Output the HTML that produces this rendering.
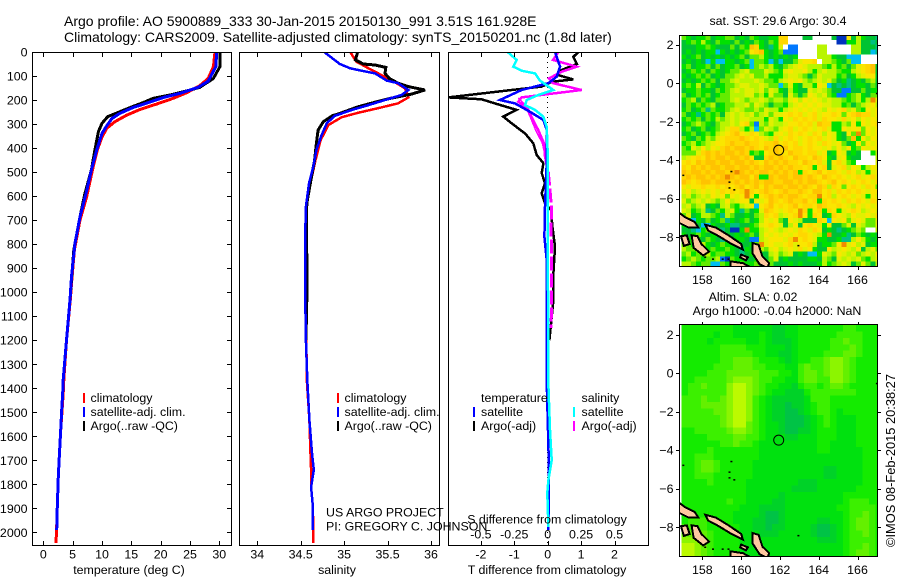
<!DOCTYPE html>
<html lang="en">
<head>
<meta charset="utf-8">
<title>Argo profile</title>
<style>
html,body{margin:0;padding:0;background:#fff;width:900px;height:580px;overflow:hidden}
svg{display:block}
text{font-family:"Liberation Sans",Arial,sans-serif;font-size:12.4px;fill:#000}
.big{font-size:14px}
</style>
</head>
<body>
<svg id="chart" xmlns="http://www.w3.org/2000/svg" width="900" height="580" viewBox="0 0 900 580">
<defs>
<clipPath id="clip-temp"><rect x="32" y="52" width="200" height="493"/></clipPath>
<clipPath id="clip-sal"><rect x="239" y="52" width="201" height="493"/></clipPath>
<clipPath id="clip-diff"><rect x="448" y="52" width="201" height="493"/></clipPath>
<clipPath id="clip-map1"><rect x="679" y="35" width="199" height="232"/></clipPath>
<clipPath id="clip-map2"><rect x="679" y="325" width="199" height="232"/></clipPath>
</defs>
<text class="big" x="64" y="26">Argo profile: AO 5900889_333 30-Jan-2015 20150130_991 3.51S 161.928E</text>
<text class="big" x="64" y="42">Climatology: CARS2009. Satellite-adjusted climatology: synTS_20150201.nc (1.8d later)</text>
<g id="map1-cells" clip-path="url(#clip-map1)"></g>
<g id="map2-cells" clip-path="url(#clip-map2)"></g>
<g id="map1-coast" clip-path="url(#clip-map1)"></g>
<g id="map2-coast" clip-path="url(#clip-map2)"></g>
<g id="lines-temp" clip-path="url(#clip-temp)"></g>
<g id="lines-sal" clip-path="url(#clip-sal)"></g>
<g id="lines-diff" clip-path="url(#clip-diff)"></g>
<g id="axes"></g>

<rect x="32.5" y="52.5" width="199" height="493" fill="none" stroke="#000"/>
<rect x="239.5" y="52.5" width="200" height="493" fill="none" stroke="#000"/>
<rect x="448.5" y="52.5" width="200" height="493" fill="none" stroke="#000"/>
<rect x="679.5" y="35.5" width="198" height="231" fill="none" stroke="#000"/>
<rect x="679.5" y="324.5" width="198" height="232" fill="none" stroke="#000"/>

<text x="129" y="574" text-anchor="middle">temperature (deg C)</text>
<text x="337" y="574" text-anchor="middle">salinity</text>
<text x="547" y="574" text-anchor="middle">T difference from climatology</text>
<text x="547" y="523.5" text-anchor="middle">S difference from climatology</text>

<g>
<rect x="83" y="393" width="2" height="10" fill="#f00"/>
<rect x="83" y="407" width="2" height="10" fill="#00f"/>
<rect x="83" y="421" width="2" height="10" fill="#000"/>
<text x="90.5" y="402">climatology</text>
<text x="90.5" y="416">satellite-adj. clim.</text>
<text x="90.5" y="430">Argo(..raw -QC)</text>
</g>
<g>
<rect x="337" y="393" width="2" height="10" fill="#f00"/>
<rect x="337" y="407" width="2" height="10" fill="#00f"/>
<rect x="337" y="421" width="2" height="10" fill="#000"/>
<text x="344.5" y="402">climatology</text>
<text x="344.5" y="416">satellite-adj. clim.</text>
<text x="344.5" y="430">Argo(..raw -QC)</text>
</g>
<g>
<text x="481" y="402">temperature</text>
<rect x="473" y="407" width="2" height="10" fill="#00f"/>
<rect x="473" y="421" width="2" height="10" fill="#000"/>
<text x="481" y="416">satellite</text>
<text x="481" y="430">Argo(-adj)</text>
<text x="581.5" y="402">salinity</text>
<rect x="573" y="407" width="2" height="10" fill="#0ff"/>
<rect x="573" y="421" width="2" height="10" fill="#f0f"/>
<text x="581.5" y="416">satellite</text>
<text x="581.5" y="430">Argo(-adj)</text>
</g>
<text x="326" y="516.5">US ARGO PROJECT</text>
<text x="326" y="530.5">PI: GREGORY C. JOHNSON</text>

<text x="778" y="25" text-anchor="middle">sat. SST: 29.6 Argo: 30.4</text>
<text x="753" y="301" text-anchor="middle">Altim. SLA: 0.02</text>
<text x="777" y="315" text-anchor="middle">Argo h1000: -0.04 h2000: NaN</text>
<text transform="translate(895,547) rotate(-90)" style="font-size:12.85px">©IMOS 08-Feb-2015 20:38:27</text>
</svg>

<script>
// ---------- profile data (depth in dbar, values in native units) ----------
const tempClimDepth = [0,61,110,140,170,193,217,239,263,290,318,354,408,477,602,700,824,949,1032,1200,1365,1420,1490,1574,1685,1768,1893,1976,2044];
const tempClimVal   = [29.27,29,28.1,26.7,24.4,22.1,19.3,16.5,14.2,12.2,10.8,10,9.2,8.5,7.4,6.25,5.3,4.85,4.6,3.95,3.5,3.4,3.2,2.96,2.73,2.56,2.39,2.28,2.17];
const tempArgoDepth = [0,61,110,147,158,179,193,211,228,248,269,297,332,408,491,588,686,824,949,1032];
const tempArgoVal   = [30.1,30.1,29,26.7,25,21.6,18.7,17,15.1,13.1,11,10,9.4,8.8,8.2,7.1,6.25,5.2,4.8,4.55];
const tempSatDepth  = [0,61,121,147,172,190,213,231,256,277,311,339,408,491,588,686,796,935,1032,1200,1365,1420,1490,1574,1685,1768,1893,1990];
const tempSatVal    = [29.55,29.4,28.1,26.4,23.3,20.4,17.6,15.3,13,11.7,10.7,10,9.1,8.2,7.3,6.25,5.4,4.8,4.55,3.95,3.4,3.3,3.13,2.96,2.73,2.56,2.39,2.28];

const salClimDepth = [0,40,68,96,123,151,189,214,234,253,272,304,366,450,533,630,783,1032,1365,1532,1650,1740,1811,1893,2044];
const salClimVal   = [35.07,35.14,35.28,35.43,35.57,35.7,35.74,35.62,35.39,35.16,34.97,34.82,34.73,34.67,34.62,34.57,34.55,34.56,34.57,34.6,34.61,34.62,34.62,34.64,34.645];
const salArgoDepth = [0,33,50,54,64,89,110,130,144,158,175,193,209,228,253,266,290,325,380,450,547,630,727,852,1032,1200];
const salArgoVal   = [35.156,35.13,35.22,35.355,35.48,35.47,35.52,35.62,35.74,35.93,35.78,35.53,35.355,35.16,34.97,34.86,34.76,34.7,34.68,34.66,34.61,34.57,34.565,34.57,34.57,34.56];
const salSatDepth  = [0,25,50,68,78,89,119,130,158,179,200,221,241,266,297,346,408,477,547,644,783,977,1200,1365,1532,1670,1740,1811,1893,1990];
const salSatVal    = [34.77,34.86,34.95,35.07,35.2,35.355,35.49,35.62,35.74,35.66,35.47,35.28,35.09,34.89,34.8,34.74,34.68,34.645,34.595,34.56,34.55,34.55,34.56,34.576,34.6,34.63,34.65,34.62,34.64,34.64];

const dtSatDepth  = [0,61,103,130,158,200,214,249,283,325,463,644,769,866,1032,1365,1640,1754,1836,1990];
const dtSatVal    = [0.22,0.37,0.27,0.02,-0.78,-1.43,-0.98,-0.53,-0.13,-0.03,-0.03,-0.08,-0.1,-0.03,-0.03,-0.03,0.02,0.04,0.03,0.02];
const dtArgoDepth = [0,20,50,75,96,114,124,144,158,189,197,214,241,269,297,339,380,429,463,504,546,588,630,658,727,810,921,1032,1200];
const dtArgoVal   = [0.92,0.77,0.87,0.42,0.31,0.76,0.12,-0.18,-1.08,-2.98,-1.98,-1.58,-0.93,-1.33,-1.08,-0.68,-0.43,-0.33,-0.13,-0.18,-0.08,-0.18,-0.08,0.1,0.14,0.22,0.17,0.17,0.05];
const dsSatDepth  = [0,33,61,78,89,119,158,179,200,221,241,269,311,421,1365,1574,1699,1782,1836,1977];
const dsSatVal    = [-0.3,-0.232,-0.257,-0.195,-0.095,-0.058,0.042,-0.07,-0.157,-0.17,-0.095,-0.033,-0.0075,0,0.004,0.017,0.03,0.005,-0.003,0.005];
const dsArgoDepth = [0,33,61,82,110,130,158,189,207,241,276,325,380,429];
const dsArgoVal   = [0.08,0.04,0.217,0.105,0.01,0.042,0.254,-0.195,-0.22,-0.145,-0.115,-0.07,-0.028,-0.02];
const dsArgoLowDepth = [429,504,574,658,727,837,1032,1150];
const dsArgoLowVal   = [-0.02,0.005,0.017,0.03,0.025,0.03,0.03,0.025];
const dsRawDepth  = [192,221,269,325,380,429];
const dsRawVal    = [-0.22,-0.17,-0.132,-0.09,-0.04,-0.02];

// ---------- tick labels ----------
const depthTicks = [0,100,200,300,400,500,600,700,800,900,1000,1100,1200,1300,1400,1500,1600,1700,1800,1900,2000];
const tempTicks  = [0,5,10,15,20,25,30];
const salTicks   = [34,34.5,35,35.5,36];
const salTickLabels = ["34","34.5","35","35.5","36"];
const dtTicks    = [-2,-1,0,1,2];
const dtTickLabels = ["-2","-1","0","1","2"];
const dsTicks    = [-0.5,-0.25,0,0.25,0.5];
const dsTickLabels = ["-0.5","-0.25","0","0.25","0.5"];
const lonTicks   = [158,160,162,164,166];
const latTicks   = [2,0,-2,-4,-6,-8];
const latTickLabels = ["2","0","\u22122","\u22124","\u22126","\u22128"];

// ---------- satellite SST classes, one char per quarter-degree cell ----------
const sstPalette = {"0":"#ffffff","1":"#0032be","2":"#0078ff","3":"#00bef0","4":"#00c082","5":"#00c332","6":"#00e100","7":"#64eb00","8":"#b9f500","9":"#e1f000","a":"#fae600","b":"#ffd700","c":"#ffc300","d":"#f08c00","e":"#dc5000"};
const sstRows = [
"76566756677565765566bb000550000511a586554",
"56768657665756576576bb0000000000116685545",
"55566765557576cb6546902200008800000885554",
"56565663656567abc656722200008800000885534",
"65675656565675778656565600008886553330000",
"5656536336656737763535579aab0887657330000",
"675667575667563787865789a988876867579abc5",
"5676757656778977798769a99a86898876689abc5",
"65676756577898977866689987579888675689aa5",
"5656767577898889877689a9a8789897564565785",
"6768576567789988987737965886a935454566575",
"56676657678989989798658655989875522557566",
"75676756778889978697759757a98976226786577",
"67857657778987889878879a8a9a98988767868d9",
"576767856778897987577689a9a9a9988675789a8",
"67567476678987787988689a9a9a98a9ab8976a9a",
"756467675898989789799abab9ab9aaba7abcbb9a",
"676757687898998886986a9babab9baa9b9a8a9a9",
"567876578898ab72879889aabab9cbb6687a6a9ab",
"6756756789bb868379879ab9aba9ab966a9aa7a9a",
"567567689abca9ba8769a9baba9ba8a965a7d7a9a",
"76576879abbbcbaba98b9aba9abab9a9657c6a8a9",
"6786789aabcbbcbbabbcabab9aba9ba9a756a7a9a",
"7698a8a9bcbccbcbacbcbcabbabaa9a8a8a67a9a9",
"7779bcbcbccbcb676abcbacbbabb9a56a95650068",
"89abacbccbccbca55bcbcbacbbacba659a6550008",
"abacbccbccbccbcbacbcbcbbacbab95ab97600009",
"bacbcbccbccbccbcbccbcbcbbab6ab59ab8a968a9",
"cbccbcbccbcdcbcbccbcbcbc6babcabba9ba8969a",
"bcbccbcbcdcbccac66cbccbccbcbacbaba9ab9ab9",
"cbabccbcccbcbcbcbccbbccbcbccbabcaba9aba9b",
"a9aabaabababcabcacbccbccbcbacb8ba7aba9ba7",
"9a89a9a9bababdbabcbabcbbcbaccab9bababa9aa",
"897898a9a7a9ada6abcbcbccbabbdab8aba9a96a9",
"978989878a89aa5a9acbabcbbcab6baba9baba9ba",
"89789565897689a3abcababcabbacbaaba98a9a9a",
"98678457689647569cba9abadb6ab6ba69aba89a9",
"79568876487556578bab89abda6ba56ba98a99a9b",
"56365756746567568a9a75a98555ba3a9a79a9779",
"67653365564455679aba958a5aba96a5579598779",
"5543675645116d6689a989a9ba9ba565456787008",
"65676566555656758a9a9a9abba986d5564576565",
"767657654656652289aaa9bdaba966556448a8656",
"7767865676655567d9a99ab9aab85667ad9a89566",
"8778767667654656879a89a9b9a655a89a98a5897",
"78677867766545665589789565336987a9897898a",
"67876778217665565579565555665875989897689",
"88767733767876675575556565556867898579758"
];

// ---------- altimeter SLA classes, one char per third-degree cell ----------
const slaPalette = {"0":"#00c346","1":"#00d228","2":"#00e10f","3":"#14eb00","4":"#3cf000","5":"#64f000","6":"#8cf500","7":"#bcfa00"};
const slaRows = [
"3333333322222211223333333443333",
"3333323322223211223333334444333",
"3333233333223211123333344544333",
"3333334444333222123333344454333",
"3333334444433221123333444554333",
"3333334455543332123344566543333",
"3333344455544333224544566543333",
"3333444555554443324554566543333",
"3344444566654433224554466543333",
"3445444677654332213443455433333",
"3444444677654322111344444443333",
"4445445677643211111244433333333",
"4445555677643211011234433333333",
"4444455677643211001234432333333",
"4444445677643211000123432223333",
"4444445677543221000123432223333",
"3344444566543221001123332223333",
"3333444455443222112223332223333",
"3333334454432222222223322223333",
"3333433333332222222223322222333",
"3344433333332222222222222222333",
"3345543333322222222222222222333",
"3345543333322222222222112222333",
"3344433333322222222222112222333",
"3333433333222222221112222222333",
"3333333333222222211112222223333",
"3333333333222221222222222333333",
"3333333433222211222222222344433",
"3333333332221111222222223344443",
"3333333322221001222222222344543",
"3444333322211001222221122345543",
"4444333332211011222210012345543",
"5555433332221112222210012344543",
"6665433332222222222221112344443",
"7765433332222222222222222344543",
"7765433332222222222222222345543"
];

// ---------- coastline outlines (lon,lat pairs) and islets ----------
const islandBougainville = [[156.7,-6.65],[157.1,-6.95],[157.6,-7.2],[157.8,-7.5],[157.3,-7.5],[156.7,-7.2]];
const islandIsabel = [[158.15,-7.35],[158.7,-7.5],[159.35,-7.9],[160.0,-8.35],[160.1,-8.65],[159.5,-8.35],[158.85,-7.95],[158.3,-7.65]];
const islandMalaita = [[160.6,-8.3],[160.9,-8.4],[161.1,-9.0],[161.45,-9.35],[161.35,-9.6],[160.95,-9.4],[160.6,-8.85]];
const islandGeorgiaA = [[156.9,-7.95],[157.2,-7.9],[157.35,-8.35],[157.05,-8.45]];
const islandGeorgiaB = [[157.45,-7.9],[157.75,-7.95],[157.95,-8.35],[158.35,-8.75],[158.05,-8.95],[157.55,-8.55]];
const islandGuadalcanal = [[159.45,-9.25],[160.1,-9.35],[160.55,-9.6],[159.45,-9.6]];
const islandFlorida = [[160.0,-8.9],[160.35,-9.05],[160.25,-9.2],[159.95,-9.05]];
const islets = [[159.45,-4.55],[159.35,-5.1],[159.35,-5.4],[159.6,-5.5],[156.97,-4.75],[162.9,-8.4],[166.95,-0.5],[158.5,-9.1],[159.0,-9.1],[159.3,-9.1],[158.1,-9.0]];
const profileLon = 161.928;
const profileLat = -3.51;

// ---------- axis functions ----------
const yDepth = d => 52 + d * 0.2402;
const xTemp = t => 43.3 + t * 5.867;
const xSal = s => 257.3 + (s - 34) * 86.85;
const xDT = t => 547.7 + t * 33.4;
const xDS = s => 547.7 + s * 133.6;
const xLon = lon => 702.3 + (lon - 158) * 19.4;
const yLat1 = lat => 44.7 + (2 - lat) * 19.25;
const yLat2 = lat => 334.7 + (2 - lat) * 19.25;

const NS = "http://www.w3.org/2000/svg";
function make(tag, parent) {
  const el = document.createElementNS(NS, tag);
  parent.appendChild(el);
  return el;
}
function drawLine(parentId, name, xFn, depths, vals, color, width, dash) {
  const el = make("polyline", document.getElementById(parentId));
  
  
  el.setAttribute("points", depths.map((d, i) => xFn(vals[i]).toFixed(1) + "," + yDepth(d).toFixed(1)).join(" "));
  el.setAttribute("fill", "none");
  el.setAttribute("stroke", color);
  el.setAttribute("stroke-width", width);
  el.setAttribute("shape-rendering", "crispEdges");
  if (dash) el.setAttribute("stroke-dasharray", dash);
}

const axes = document.getElementById("axes");
function tick(x1, y1, x2, y2) {
  const el = make("line", axes);
  
  
  el.setAttribute("x1", x1);
  el.setAttribute("y1", y1);
  el.setAttribute("x2", x2);
  el.setAttribute("y2", y2);
  el.setAttribute("stroke", "#000");
  el.setAttribute("shape-rendering", "crispEdges");
}
function label(x, y, str, anchor) {
  const el = make("text", axes);
  
  
  el.setAttribute("x", x);
  el.setAttribute("y", y);
  el.setAttribute("text-anchor", anchor);
  el.textContent = str;
}

// profile panels: reference dotted zero line first
const zeroLine = make("line", document.getElementById("lines-diff"));


zeroLine.setAttribute("x1", xDT(0));
zeroLine.setAttribute("x2", xDT(0));
zeroLine.setAttribute("y1", yDepth(0));
zeroLine.setAttribute("y2", yDepth(2050));
zeroLine.setAttribute("stroke", "#000");
zeroLine.setAttribute("stroke-dasharray", "1 4");
zeroLine.setAttribute("shape-rendering", "crispEdges");

drawLine("lines-temp", "temperature-climatology-line", xTemp, tempClimDepth, tempClimVal, "#f00", 3);
drawLine("lines-temp", "temperature-argo-line", xTemp, tempArgoDepth, tempArgoVal, "#000", 3);
drawLine("lines-temp", "temperature-satellite-line", xTemp, tempSatDepth, tempSatVal, "#00f", 3);
drawLine("lines-sal", "salinity-climatology-line", xSal, salClimDepth, salClimVal, "#f00", 2.5);
drawLine("lines-sal", "salinity-argo-line", xSal, salArgoDepth, salArgoVal, "#000", 3);
drawLine("lines-sal", "salinity-satellite-line", xSal, salSatDepth, salSatVal, "#00f", 2.5);
drawLine("lines-diff", "t-difference-argo-line", xDT, dtArgoDepth, dtArgoVal, "#000", 2.5);
drawLine("lines-diff", "s-difference-raw-line", xDS, dsRawDepth, dsRawVal, "#f0f", 1.5);
drawLine("lines-diff", "s-difference-argo-line", xDS, dsArgoDepth, dsArgoVal, "#f0f", 2.5);
drawLine("lines-diff", "s-difference-argo-deep-line", xDS, dsArgoLowDepth, dsArgoLowVal, "#f0f", 3, "14 3");
drawLine("lines-diff", "t-difference-satellite-line", xDT, dtSatDepth, dtSatVal, "#00f", 2.5);
drawLine("lines-diff", "s-difference-satellite-line", xDS, dsSatDepth, dsSatVal, "#0ff", 2.5);

// profile axes
depthTicks.forEach(d => {
  const y = Math.round(yDepth(d)) + 0.5;
  tick(32, y, 37, y);
  tick(227, y, 232, y);
  label(27.5, yDepth(d) + 4.5, String(d), "end");
});
tempTicks.forEach(t => {
  const x = Math.round(xTemp(t)) + 0.5;
  tick(x, 52, x, 57);
  tick(x, 541, x, 546);
  label(xTemp(t), 558.5, String(t), "middle");
});
salTicks.forEach((s, i) => {
  const x = Math.round(xSal(s)) + 0.5;
  tick(x, 52, x, 57);
  tick(x, 541, x, 546);
  label(xSal(s), 558.5, salTickLabels[i], "middle");
});
dtTicks.forEach((t, i) => {
  const x = Math.round(xDT(t)) + 0.5;
  tick(x, 52, x, 57);
  tick(x, 541, x, 546);
  label(xDT(t), 558.5, dtTickLabels[i], "middle");
});
dsTicks.forEach((s, i) => {
  label(xDS(s), 538.5, dsTickLabels[i], "middle");
});

// maps
function drawCells(groupId, rows, palette, name, lonStart, lonStep, latStart, latStep, yLat) {
  const g = document.getElementById(groupId);
  rows.forEach((row, r) => {
    for (let c = 0; c < row.length; c++) {
      const el = make("rect", g);
      
      
      const x0 = xLon(lonStart + c * lonStep);
      const y0 = yLat(latStart - r * latStep);
      el.setAttribute("x", x0.toFixed(2));
      el.setAttribute("y", y0.toFixed(2));
      el.setAttribute("width", (lonStep * 19.4 + 0.4).toFixed(2));
      el.setAttribute("height", (latStep * 19.25 + 0.4).toFixed(2));
      el.setAttribute("fill", palette[row[c]]);
      el.setAttribute("shape-rendering", "crispEdges");
    }
  });
}
drawCells("map1-cells", sstRows, sstPalette, "sst-cell", 156.92, 0.25, 2.5, 0.25, yLat1);
drawCells("map2-cells", slaRows, slaPalette, "sla-cell", 156.92, 1 / 3, 2.5, 1 / 3, yLat2);

const islands = [islandBougainville, islandIsabel, islandMalaita, islandGeorgiaA, islandGeorgiaB, islandGuadalcanal, islandFlorida];
function drawCoast(groupId, yLat) {
  const g = document.getElementById(groupId);
  islands.forEach(pts => {
    const el = make("polygon", g);
    
    
    el.setAttribute("points", pts.map(p => xLon(p[0]).toFixed(1) + "," + yLat(p[1]).toFixed(1)).join(" "));
    el.setAttribute("fill", "#ffc8a0");
    el.setAttribute("stroke", "#000");
    el.setAttribute("stroke-width", "2");
    el.setAttribute("shape-rendering", "crispEdges");
  });
  islets.forEach(p => {
    const el = make("rect", g);
    
    
    el.setAttribute("x", xLon(p[0]).toFixed(1));
    el.setAttribute("y", yLat(p[1]).toFixed(1));
    el.setAttribute("width", 2);
    el.setAttribute("height", 1.5);
    el.setAttribute("fill", "#000");
  });
  const marker = make("circle", g);
  
  
  marker.setAttribute("cx", xLon(profileLon) + 0.2);
  marker.setAttribute("cy", yLat(profileLat) - 0.6);
  marker.setAttribute("r", 5);
  marker.setAttribute("fill", "none");
  marker.setAttribute("stroke", "#000");
}
drawCoast("map1-coast", yLat1);
drawCoast("map2-coast", yLat2);

function mapAxes(top, bottom, labelY, yLat) {
  lonTicks.forEach(lon => {
    const x = Math.round(xLon(lon)) + 0.5;
    tick(x, top - 3, x, top);
    tick(x, bottom, x, bottom + 3);
    label(xLon(lon), labelY, String(lon), "middle");
  });
  latTicks.forEach((lat, i) => {
    const y = Math.round(yLat(lat)) + 0.5;
    tick(676, y, 679, y);
    tick(878, y, 881, y);
    label(673.5, yLat(lat) + 4.5, latTickLabels[i], "end");
  });
}
mapAxes(35, 267, 284, yLat1);
mapAxes(325, 557, 574, yLat2);
</script>
</body>
</html>
